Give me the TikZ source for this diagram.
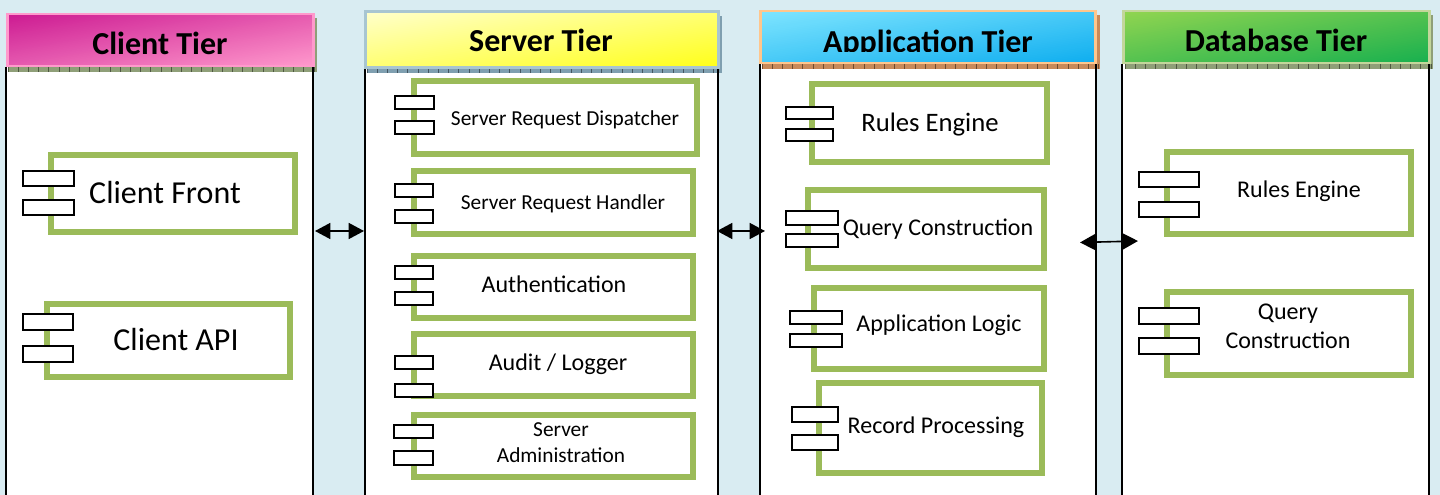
\documentclass[tikz,border=0pt]{standalone}
\usepackage{fontspec}
\setmainfont{Carlito}
\usetikzlibrary{arrows.meta}
\definecolor{bgc}{HTML}{D9ECF2}
\definecolor{frm}{HTML}{9BBB59}
\definecolor{bo}{HTML}{8F9F78}
\definecolor{bb}{HTML}{7F9FB0}
\definecolor{bd}{HTML}{C88A5A}
\definecolor{h1a}{HTML}{CC1A92}\definecolor{h1b}{HTML}{FF99CC}
\definecolor{h2a}{HTML}{FFFFCC}\definecolor{h2b}{HTML}{FFFF1A}
\definecolor{h3a}{HTML}{7FE5FF}\definecolor{h3b}{HTML}{0FAEEF}
\definecolor{h4a}{HTML}{92D550}\definecolor{h4b}{HTML}{18B04F}
\tikzset{
  x=0.75pt,y=-0.75pt,
  frame/.style={draw=frm,line width=4.8pt,fill=white,inner sep=0pt,outer sep=0pt},
  port/.style={draw=black,line width=1.3pt,fill=white,inner sep=0pt,outer sep=0pt},
  txt/.style={anchor=base,inner sep=0pt,align=center,text=black},
  head/.style={anchor=base,inner sep=0pt,text=black,font=\fontsize{24}{26}\selectfont\bfseries},
  side/.style={line width=1.3pt,draw=black},
  hdr/.style={line width=2.2pt,inner sep=0,outer sep=0},
  biarrow/.style={line width=1.2pt,{Triangle[length=11.5pt,width=12pt]}-{Triangle[length=11.5pt,width=12pt]}},
}
% box by pixel corners: name, x1,y1,x2,y2, style, inset
\newcommand{\pbox}[7]{%
  \pgfmathsetmacro{\bcx}{(#2+#4)/2}\pgfmathsetmacro{\bcy}{(#3+#5)/2}%
  \pgfmathsetmacro{\bwd}{(#4-#2-#7)*0.75}\pgfmathsetmacro{\bht}{(#5-#3-#7)*0.75}%
  \node[#6,minimum width=\bwd pt,minimum height=\bht pt] (#1) at (\bcx,\bcy) {};}
% component: name, frame corners, port x1,y1,x2,y2, then second port y1,y2
\newcommand{\comp}[9]{%
  \pbox{#1}{#2}{#3}{#4}{#5}{frame}{6.4}%
  \def\pa{#6}\def\pb{#7}\def\pc{#8}\def\pd{#9}\compb{#1}}
\newcommand{\compb}[3]{%
  \pbox{#1a}{\pa}{\pb}{\pc}{\pd}{port}{1.7}%
  \pbox{#1b}{\pa}{#2}{\pc}{#3}{port}{1.7}}
\newcommand{\band}[5]{%
  \fill[#5] (#1,#3) rectangle (#2,#4);
  \pgfmathsetmacro{\nt}{int((#2-#1)/10.2)}%
  \foreach \ti in {0,...,\nt}{\draw[#5!55!black,line width=0.5pt] ({#1+\ti*10.2},#3) -- ({#1+\ti*10.2},#4);}}
% corner-to-corner gradient: x1,y1,x2,y2, start colour, end colour
\newcommand{\grad}[6]{%
  \begin{scope}
  \clip (#1,#2) rectangle (#3,#4);
  \fill[#6] (#1,#2) rectangle (#3,#4);
  \foreach \gi in {60,59,...,1}{%
    \pgfmathsetmacro{\gp}{100*(\gi-0.5)/60}%
    \pgfmathsetmacro{\gx}{#1+2*(\gi/60)*(#3-#1)}%
    \pgfmathsetmacro{\gy}{#2+2*(\gi/60)*(#4-#2)}%
    \fill[#6!\gp!#5] (#1,#2) -- (\gx,#2) -- (#1,\gy) -- cycle;}
  \end{scope}}
\begin{document}
\begin{tikzpicture}
\useasboundingbox (0,0) rectangle (1440,495);
\fill[bgc] (0,0) rectangle (1440,495);
% tier bodies
\fill[white] (6,60) rectangle (313,495);
\fill[white] (365,60) rectangle (718,495);
\fill[white] (760,60) rectangle (1096,495);
\fill[white] (1122,60) rectangle (1429,495);
% bands
\fill[bo] (315,18) rectangle (317,72);
\fill[bb] (720,16) rectangle (722,73);
\fill[bd] (1097,15) rectangle (1100,69);
\fill[bo] (1431,15) rectangle (1433,69);
\band{8}{317}{67}{72}{bo}
\band{367}{722}{69}{73}{bb}
\band{762}{1100}{64}{69}{bd}
\band{1125}{1433}{64}{69}{bo}
% side lines
\coordinate (c1t) at (6,67); \coordinate (c1b) at (6,495);
\coordinate (c2t) at (313,67); \coordinate (c2b) at (313,495);
\coordinate (s1t) at (365,69); \coordinate (s1b) at (365,495);
\coordinate (s2t) at (718,69); \coordinate (s2b) at (718,495);
\coordinate (a1t) at (760,64); \coordinate (a1b) at (760,495);
\coordinate (a2t) at (1096,64); \coordinate (a2b) at (1096,495);
\coordinate (d1t) at (1122,64); \coordinate (d1b) at (1122,495);
\coordinate (d2t) at (1429,64); \coordinate (d2b) at (1429,495);
\draw[side] (c1t)--(c1b) (c2t)--(c2b) (s1t)--(s1b) (s2t)--(s2b) (a1t)--(a1b) (a2t)--(a2b) (d1t)--(d1b) (d2t)--(d2b);
% headers
\grad{7.5}{14}{313.5}{66}{h1a}{h1b}
\grad{365.5}{11.5}{718.5}{67.5}{h2a}{h2b}
\grad{760.5}{11}{1095.5}{63}{h3a}{h3b}
\grad{1123.5}{11}{1429.5}{63}{h4a}{h4b}
\node[hdr,draw=h1b,minimum width=229.5pt,minimum height=39pt] (hc) at (160.5,40) {};
\node[hdr,draw=cyan!35!gray!60!white,minimum width=264.75pt,minimum height=42pt] (hs) at (542,39.5) {};
\node[hdr,draw=orange!45!white,minimum width=251.25pt,minimum height=39pt] (ha) at (928,37) {};
\node[hdr,draw=frm!60!white,minimum width=229.5pt,minimum height=39pt] (hd) at (1276.5,37) {};
\node[head] (tc) at (160,55) {Client Tier};
\node[head] (ts) at (541,52) {Server Tier};
\begin{scope}
\clip (760,10) rectangle (1096,52);
\node[head] (ta) at (928,52.5) {Application Tier};
\end{scope}
\node[head] (td) at (1276,52) {Database Tier};
% components
\comp{cf}{48}{152}{298}{235}{22}{170}{75}{187}{199}{216}
\comp{ca}{44}{301}{293}{380}{22}{313}{74}{331}{345}{363}
\comp{s1}{411}{78}{700}{157}{394}{95}{435}{110}{120}{135}
\comp{s2}{411}{168}{696}{237}{394}{183}{434}{198}{209}{224}
\comp{s3}{411}{253}{696}{321}{394}{265}{434}{280}{291}{306}
\comp{s4}{411}{331}{696}{399}{394}{355}{434}{370}{383}{398}
\comp{s5}{411}{412}{696}{480}{393}{424}{434}{439}{450}{466}
\comp{a1}{809}{81}{1050}{165}{785}{106}{834}{120}{128}{142}
\comp{a2}{805}{187}{1047}{271}{785}{210}{839}{226}{233}{248}
\comp{a3}{811}{285}{1047}{372}{789}{310}{843}{325}{333}{348}
\comp{a4}{816}{380}{1045}{476}{791}{406}{839}{423}{434}{451}
\comp{d1}{1164}{149}{1414}{237}{1138}{171}{1200}{188}{201}{218}
\comp{d2}{1164}{289}{1414}{378}{1138}{307}{1200}{325}{337}{355}
% labels
\node[txt,font=\fontsize{24}{26}\selectfont] (lcf) at (165,203.5) {Client Front};
\node[txt,font=\fontsize{24}{26}\selectfont] (lca) at (176,351) {Client API};
\node[txt,font=\fontsize{16}{18}\selectfont] (ls1) at (565,126) {Server Request Dispatcher};
\node[txt,font=\fontsize{16}{18}\selectfont] (ls2) at (563,210) {Server Request Handler};
\node[txt,font=\fontsize{18}{20}\selectfont] (ls3) at (554,293) {Authentication};
\node[txt,font=\fontsize{18}{20}\selectfont] (ls4) at (558,371) {Audit / Logger};
\node[txt,font=\fontsize{16}{18}\selectfont] (ls5a) at (561,437) {Server};
\node[txt,font=\fontsize{16}{18}\selectfont] (ls5b) at (561,463) {Administration};
\node[txt,font=\fontsize{20}{22}\selectfont] (la1) at (930,131.5) {Rules Engine};
\node[txt,font=\fontsize{18}{20}\selectfont] (la2) at (938,236) {Query Construction};
\node[txt,font=\fontsize{18}{20}\selectfont] (la3) at (939,332) {Application Logic};
\node[txt,font=\fontsize{18}{20}\selectfont] (la4) at (936,434) {Record Processing};
\node[txt,font=\fontsize{18}{20}\selectfont] (ld1) at (1299,198) {Rules Engine};
\node[txt,font=\fontsize{18}{20}\selectfont] (ld2a) at (1288,320) {Query};
\node[txt,font=\fontsize{18}{20}\selectfont] (ld2b) at (1288,349) {Construction};
% arrows
\coordinate (ar1a) at (315,231); \coordinate (ar1b) at (364,231);
\coordinate (ar2a) at (717,231); \coordinate (ar2b) at (765,231);
\coordinate (ar3a) at (1080,242.5); \coordinate (ar3b) at (1138,241);
\draw[biarrow] (ar1a)--(ar1b);
\draw[biarrow] (ar2a)--(ar2b);
\draw[biarrow] (ar3a)--(ar3b);
\end{tikzpicture}
\end{document}
